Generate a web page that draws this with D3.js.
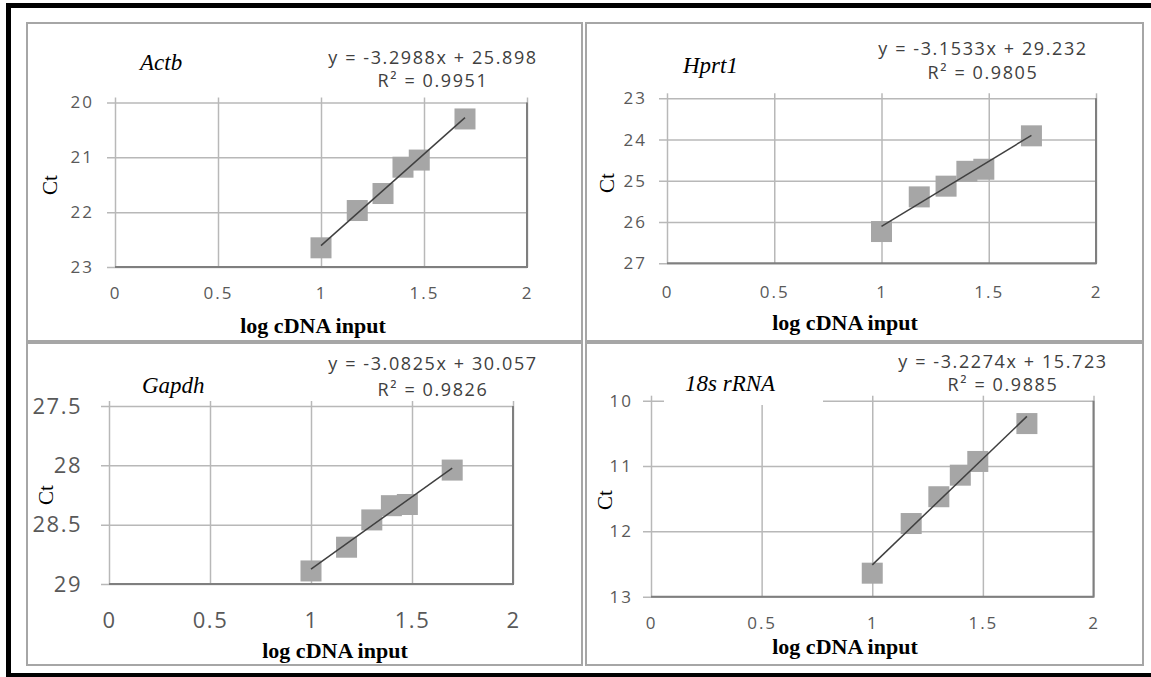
<!DOCTYPE html>
<html lang="en">
<head>
    <meta charset="UTF-8">
    <title>qPCR standard curves</title>
    <script src="https://d3js.org/d3.v7.min.js"></script>
    <style>
        body{ margin: 0; background: #ffffff; }
        .tick text{ fill: #595959; font-family: "Open Sans", sans-serif; }
        .grid line{ stroke: #b8b8b8; stroke-width: 1.5; }
        .grid .domain{ display: none; }
        .lbl .domain, .lbl line{ display: none; }
    </style>
</head>
<body>
<svg width="1151" height="677" id="fig"></svg>
<script>
    // log10 of cDNA input (10, 15, 20, 25, 30, 50)
    let logInput = [1, 1.176, 1.301, 1.398, 1.477, 1.699]
    let ctActb = [22.65, 21.97, 21.66, 21.18, 21.05, 20.30]
    let ctHprt1 = [26.23, 25.39, 25.13, 24.77, 24.72, 23.91]
    let ctGapdh = [28.89, 28.69, 28.46, 28.34, 28.33, 28.04]
    let ct18s = [12.64, 11.88, 11.47, 11.14, 10.93, 10.35]

    let geneNames = ["Actb", "Hprt1", "Gapdh", "18s rRNA"]
    let eqLabels = ["y = -3.2988x + 25.898", "y = -3.1533x + 29.232", "y = -3.0825x + 30.057", "y = -3.2274x + 15.723"]
    let r2Labels = ["R\u00b2 = 0.9951", "R\u00b2 = 0.9805", "R\u00b2 = 0.9826", "R\u00b2 = 0.9885"]
    let xTicks = [0, 0.5, 1, 1.5, 2]
    let ctDomains = [[20, 23], [23, 27], [27.5, 29], [10, 13]]
    let ctTicks = [[20, 21, 22, 23], [23, 24, 25, 26, 27], [27.5, 28, 28.5, 29], [10, 11, 12, 13]]
    let ctSeries = [ctActb, ctHprt1, ctGapdh, ct18s]

    // panel geometry (pixels)
    let layout = [
        {box: [27, 23, 582, 341], plot: [115, 102.5, 527, 267], title: [140, 62], eq: [433, 57, 80],
            xLabY: 293, xTitle: [313, 325], ct: [50, 185], yPad: 13, tickFs: 17, tickLs: 2},
        {box: [586, 23, 1143, 341], plot: [667, 98.3, 1096, 263.3], title: [683, 65], eq: [983, 48, 72],
            xLabY: 292, xTitle: [845, 322], ct: [607, 183], yPad: 12, tickFs: 17, tickLs: 2},
        {box: [27, 343, 582, 665], plot: [109, 406, 513, 584], title: [142, 385], eq: [433, 363, 389],
            xLabY: 620, xTitle: [335, 650], ct: [46, 495], yPad: 19, tickFs: 22, tickLs: 1.5},
        {box: [586, 343, 1143, 665], plot: [651, 400.7, 1093.5, 596.7], title: [685, 383], eq: [1003, 361, 384],
            xLabY: 623, xTitle: [845, 646], ct: [605, 500], yPad: 10, tickFs: 17, tickLs: 2,
            titleBox: [664, 365, 159, 40]}
    ]

    let svg = d3.select("#fig")

    // outer black frame (cut at right edge)
    svg.append("rect")
        .attr("x", 8.5).attr("y", 5.5)
        .attr("width", 1170).attr("height", 670)
        .attr("fill", "none").attr("stroke", "#000").attr("stroke-width", 5)

    layout.forEach(function (L, i) {
        let g = svg.append("g")
        let [bx0, by0, bx1, by1] = L.box
        g.append("rect")
            .attr("x", bx0).attr("y", by0)
            .attr("width", bx1 - bx0).attr("height", by1 - by0)
            .attr("fill", "#fff").attr("stroke", "#a6a6a6").attr("stroke-width", 2)

        let [px0, py0, px1, py1] = L.plot
        let x = d3.scaleLinear().domain([0, 2]).range([px0, px1])
        let y = d3.scaleLinear().domain(ctDomains[i]).range([py0, py1])

        // horizontal gridlines with left ticks
        g.append("g")
            .attr("class", "grid")
            .attr("transform", "translate(" + (px0 - 8) + ",0)")
            .call(d3.axisLeft(y).tickValues(ctTicks[i]).tickSize(-(px1 - px0 + 8)).tickFormat(""))
        // vertical gridlines with top ticks
        g.append("g")
            .attr("class", "grid")
            .attr("transform", "translate(0," + (py0 - 5) + ")")
            .call(d3.axisTop(x).tickValues(xTicks).tickSize(-(py1 - py0 + 5)).tickFormat(""))

        // darker bottom and right edges
        g.append("path")
            .attr("d", "M" + px0 + "," + py1 + "H" + px1 + "V" + py0)
            .attr("fill", "none").attr("stroke", "#7f7f7f").attr("stroke-width", 2)

        // tick labels
        g.append("g")
            .attr("class", "lbl")
            .attr("transform", "translate(" + (px0 - 8) + ",0)")
            .call(d3.axisLeft(y).tickValues(ctTicks[i]).tickSize(0).tickPadding(L.yPad).tickFormat(d => d))
            .selectAll("text").style("font-size", L.tickFs + "px").style("letter-spacing", L.tickLs + "px")
        g.append("g")
            .attr("class", "lbl")
            .attr("transform", "translate(0," + py1 + ")")
            .call(d3.axisBottom(x).tickValues(xTicks).tickSize(0)
                .tickPadding(L.xLabY - py1 - 0.35 * L.tickFs).tickFormat(d => d))
            .selectAll("text").style("font-size", L.tickFs + "px").style("letter-spacing", L.tickLs + "px")

        // markers
        let pts = logInput.map((v, k) => ({x: v, y: ctSeries[i][k]}))
        g.selectAll("rect.pt").data(pts).enter().append("rect")
            .attr("class", "pt")
            .attr("x", d => x(d.x) - 10.5).attr("y", d => y(d.y) - 10.5)
            .attr("width", 21).attr("height", 21)
            .attr("fill", "#a6a6a6")

        // linear trendline over the data range
        let mx = d3.mean(pts, d => d.x), my = d3.mean(pts, d => d.y)
        let slope = d3.sum(pts, d => (d.x - mx) * (d.y - my)) / d3.sum(pts, d => (d.x - mx) * (d.x - mx))
        let icpt = my - slope * mx
        let xs = d3.extent(pts, d => d.x)
        g.append("line")
            .attr("x1", x(xs[0])).attr("y1", y(icpt + slope * xs[0]))
            .attr("x2", x(xs[1])).attr("y2", y(icpt + slope * xs[1]))
            .attr("stroke", "#404040").attr("stroke-width", 1.5)

        // gene title
        if (L.titleBox) {
            g.append("rect")
                .attr("x", L.titleBox[0]).attr("y", L.titleBox[1])
                .attr("width", L.titleBox[2]).attr("height", L.titleBox[3])
                .attr("fill", "#fff")
        }
        g.append("text")
            .attr("x", L.title[0]).attr("y", L.title[1])
            .attr("dominant-baseline", "central")
            .style("font-family", "'Liberation Serif', serif").style("font-style", "italic")
            .style("font-size", "23px")
            .text(geneNames[i])

        // equation + R²
        g.append("text")
            .attr("x", L.eq[0]).attr("y", L.eq[1])
            .attr("text-anchor", "middle").attr("dominant-baseline", "central")
            .style("font-family", "'Open Sans', sans-serif").style("font-size", "18px")
            .style("fill", "#404040").style("letter-spacing", "1.6px")
            .text(eqLabels[i])
        g.append("text")
            .attr("x", L.eq[0]).attr("y", L.eq[2])
            .attr("text-anchor", "middle").attr("dominant-baseline", "central")
            .style("font-family", "'Open Sans', sans-serif").style("font-size", "18px")
            .style("fill", "#404040").style("letter-spacing", "1.6px")
            .text(r2Labels[i])

        // axis titles
        g.append("text")
            .attr("x", L.xTitle[0]).attr("y", L.xTitle[1])
            .attr("text-anchor", "middle").attr("dominant-baseline", "central")
            .style("font-family", "'Liberation Serif', serif").style("font-weight", "bold")
            .style("font-size", "22px")
            .text("log cDNA input")
        g.append("text")
            .attr("transform", "translate(" + L.ct[0] + "," + L.ct[1] + ") rotate(-90)")
            .attr("text-anchor", "middle").attr("dominant-baseline", "central")
            .style("font-family", "'Liberation Serif', serif").style("font-size", "21px")
            .text("Ct")
    })
</script>
</body>
</html>
